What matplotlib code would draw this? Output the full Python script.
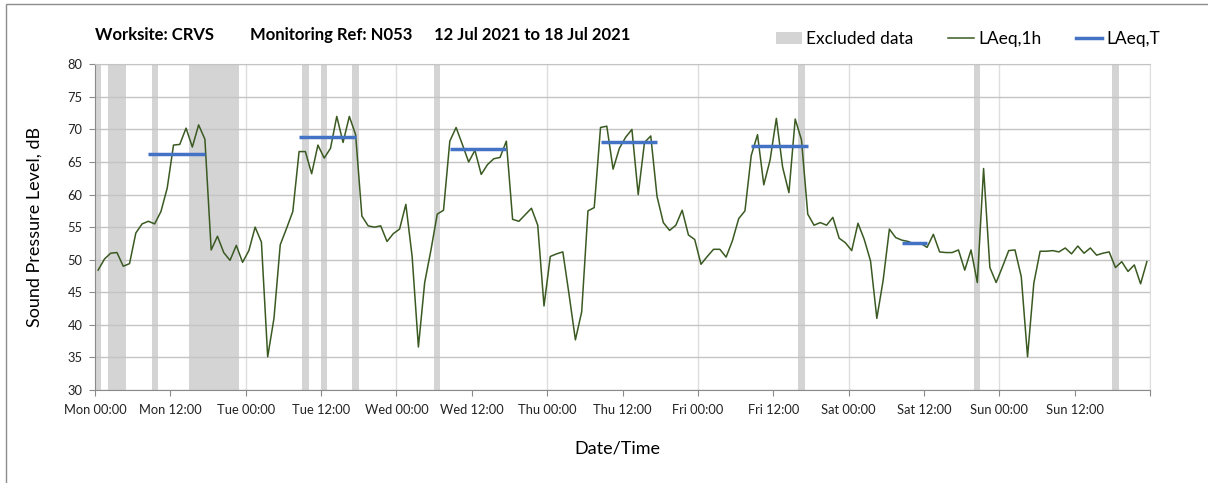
import matplotlib
matplotlib.use("Agg")
import matplotlib.pyplot as plt
from matplotlib.patches import Rectangle, Patch
from matplotlib.lines import Line2D
import numpy as np

plt.rcParams["font.family"] = ["Lato", "DejaVu Sans"]

# hourly LAeq,1h values, Mon 00:00 .. Sun 23:00
laeq_1h = [
    48.4, 50.1, 51.0, 51.1, 49.0, 49.4, 54.1, 55.5, 55.9, 55.5, 57.4, 61.0,
    67.6, 67.7, 70.2, 67.3, 70.7, 68.5, 51.5, 53.6, 51.1, 49.9, 52.2, 49.6,
    51.4, 55.0, 52.7, 35.1, 41.0, 52.3, 54.8, 57.4, 66.6, 66.6, 63.2, 67.6,
    65.6, 67.1, 72.0, 68.0, 72.0, 69.2, 56.7, 55.2, 55.0, 55.2, 52.8, 54.0,
    54.7, 58.5, 50.5, 36.6, 46.5, 51.5, 57.0, 57.6, 68.2, 70.3, 67.7, 65.0,
    66.8, 63.1, 64.6, 65.5, 65.7, 68.2, 56.2, 55.9, 56.9, 57.9, 55.3, 42.9,
    50.5, 50.9, 51.2, 44.6, 37.7, 42.0, 57.5, 58.0, 70.3, 70.5, 63.9, 67.1,
    68.8, 70.0, 60.0, 68.0, 69.0, 59.7, 55.7, 54.5, 55.3, 57.6, 53.8, 53.1,
    49.3, 50.5, 51.6, 51.6, 50.4, 52.9, 56.3, 57.5, 66.0, 69.2, 61.5, 65.3,
    71.7, 64.2, 60.3, 71.6, 68.4, 57.0, 55.3, 55.7, 55.3, 56.5, 53.3, 52.6,
    51.4, 55.6, 53.1, 49.8, 41.0, 46.8, 54.7, 53.4, 53.0, 52.8, 52.4, 52.5,
    51.9, 53.9, 51.2, 51.1, 51.1, 51.5, 48.4, 51.5, 46.5, 64.0, 48.8, 46.5,
    48.9, 51.4, 51.5, 47.4, 35.1, 46.4, 51.3, 51.3, 51.4, 51.2, 51.8, 50.9,
    52.1, 51.0, 51.8, 50.7, 51.0, 51.2, 48.8, 49.7, 48.2, 49.2, 46.3, 49.7,
]

# hours flagged as excluded data
excluded_hours = [0, 2, 3, 4, 9] + list(range(15, 23)) + [33, 36, 41, 54, 112, 140, 162]

# LAeq,T periods: first hour, last hour, level
period_start = [8, 32, 56, 80, 104, 128]
period_end = [17, 41, 65, 89, 113, 132]
period_level = [66.2, 68.9, 67.0, 68.0, 67.5, 52.5]

tick_labels = ["Mon 00:00", "Mon 12:00", "Tue 00:00", "Tue 12:00", "Wed 00:00",
               "Wed 12:00", "Thu 00:00", "Thu 12:00", "Fri 00:00", "Fri 12:00",
               "Sat 00:00", "Sat 12:00", "Sun 00:00", "Sun 12:00", ""]

band_color = "#d4d4d4"
green = "#3a5a22"
blue = "#4472c4"
grid_h = "#c4c4c4"
grid_v = "#dedede"
axis_col = "#8a8a8a"

W, H = 1208, 483
fig = plt.figure(figsize=(W / 100, H / 100), dpi=100)
ax = fig.add_axes([95 / W, 1 - 390 / H, (1150 - 95) / W, (390 - 64.3) / H])

hours = np.arange(len(laeq_1h)) + 0.5

# excluded bands, contiguous hours merged
runs = []
for h in sorted(excluded_hours):
    if runs and runs[-1][1] == h:
        runs[-1][1] = h + 1
    else:
        runs.append([h, h + 1])
for a, b in runs:
    ax.axvspan(a, b, color=band_color, lw=0, zorder=0)

ax.set_xlim(0, 168)
ax.set_ylim(30, 80)
ax.set_yticks(np.arange(30, 81, 5))
ax.set_xticks(np.arange(0, 169, 12))
ax.set_xticklabels(tick_labels)
ax.yaxis.grid(True, color=grid_h, lw=1)
for d in range(24, 169, 24):
    ax.axvline(d, color=grid_v, lw=1, zorder=0.5)
ax.set_axisbelow(True)

ax.plot(hours, laeq_1h, color=green, lw=1.1, zorder=3)
for s, e, lv in zip(period_start, period_end, period_level):
    ax.plot([s + 0.5, e + 0.5], [lv, lv], color=blue, lw=2.5, zorder=4,
            solid_capstyle="butt")

for side in ["left", "bottom"]:
    ax.spines[side].set_color(axis_col)
ax.spines["top"].set_color(grid_h)
ax.spines["right"].set_color(grid_v)
ax.tick_params(axis="both", direction="out", length=4, color=axis_col,
               labelsize=9.3, labelcolor="#222222", pad=5)
ax.tick_params(axis="x", pad=6)

ax.set_ylabel("Sound Pressure Level, dB", fontsize=13, labelpad=14)
ax.yaxis.set_label_coords((35 - 95) / (1150 - 95), 0.5)
ax.set_xlabel("Date/Time", fontsize=13)
ax.xaxis.set_label_coords((617 - 95) / (1150 - 95), -(448 - 390) / (390 - 64.3))
ax.xaxis.label.set_va("center")
ax.yaxis.label.set_va("center")

# title pieces
ty = 1 - 35 / H
fig.text(95 / W, ty, "Worksite: CRVS", fontsize=12, fontweight="bold", va="center")
fig.text(250 / W, ty, "Monitoring Ref: N053", fontsize=12, fontweight="bold", va="center")
fig.text(434 / W, ty, "12 Jul 2021 to 18 Jul 2021", fontsize=12, fontweight="bold", va="center")

handles = [Patch(facecolor=band_color, edgecolor="none"),
           Line2D([], [], color=green, lw=1.1),
           Line2D([], [], color=blue, lw=2.5)]
fig.legend(handles, ["Excluded data", "LAeq,1h", "LAeq,T"], loc="center",
           bbox_to_anchor=(968 / W, 1 - 39 / H), ncol=3, frameon=False,
           fontsize=12.5, handlelength=1.5, handleheight=0.75, handletextpad=0.25,
           columnspacing=2.0)

# chart-area border (left and top edges visible)
fig.patches.append(Rectangle((5.5 / W, -0.1), 1.1, 1.1 - 4 / H,
                             transform=fig.transFigure, fill=False,
                             edgecolor="#8c8c8c", lw=1))

fig.savefig("out.png", dpi=100)
